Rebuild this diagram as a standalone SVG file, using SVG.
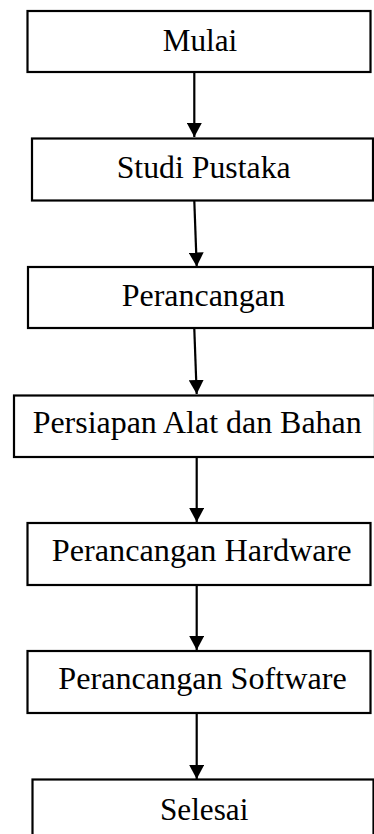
<svg xmlns="http://www.w3.org/2000/svg" width="374" height="834" viewBox="0 0 374 834">
  <style>
    .box { fill: #ffffff; stroke: #000000; stroke-width: 2.2; }
    .lbl { font-family: "Liberation Serif", "Times New Roman", serif; font-size: 31px; fill: #000000; }
    .edge { stroke: #000000; stroke-width: 2.2; fill: none; marker-end: url(#arrow); }
  </style>
  <defs>
    <marker id="arrow" markerUnits="userSpaceOnUse" markerWidth="15" markerHeight="15" refX="14" refY="7.5" orient="auto">
      <path d="M0,0 L14,7.5 L0,15 z" fill="#000000"/>
    </marker>
  </defs>
  <rect width="374" height="834" fill="#ffffff"/>
  <g id="connectors">
    <line class="edge" x1="194.3" y1="72" x2="194.3" y2="137"/>
    <line class="edge" x1="194.3" y1="201" x2="196.7" y2="266.5"/>
    <line class="edge" x1="194.3" y1="329" x2="196.7" y2="394"/>
    <line class="edge" x1="196.7" y1="457.5" x2="196.7" y2="522"/>
    <line class="edge" x1="196.7" y1="585.5" x2="196.7" y2="650"/>
    <line class="edge" x1="196.7" y1="713.5" x2="196.7" y2="779"/>
  </g>
  <g id="mulai">
    <rect class="box" x="27.5" y="11" width="343" height="61"/>
    <text class="lbl" x="162.7" y="50.7" textLength="74.6" lengthAdjust="spacingAndGlyphs">Mulai</text>
  </g>
  <g id="studi-pustaka">
    <rect class="box" x="32" y="138.5" width="341" height="62"/>
    <text class="lbl" x="116.7" y="178.3" textLength="174" lengthAdjust="spacingAndGlyphs">Studi Pustaka</text>
  </g>
  <g id="perancangan">
    <rect class="box" x="28" y="267" width="345" height="61"/>
    <text class="lbl" x="121.7" y="306.3" textLength="163.3" lengthAdjust="spacingAndGlyphs">Perancangan</text>
  </g>
  <g id="persiapan">
    <rect class="box" x="14" y="395.5" width="361" height="61.5"/>
    <text class="lbl" x="32.7" y="433.3" textLength="329" lengthAdjust="spacingAndGlyphs">Persiapan Alat dan Bahan</text>
  </g>
  <g id="hardware">
    <rect class="box" x="27.5" y="523" width="343" height="62"/>
    <text class="lbl" x="51.7" y="561.3" textLength="300" lengthAdjust="spacingAndGlyphs">Perancangan Hardware</text>
  </g>
  <g id="software">
    <rect class="box" x="27.5" y="651" width="343" height="62"/>
    <text class="lbl" x="58.3" y="689.3" textLength="288.4" lengthAdjust="spacingAndGlyphs">Perancangan Software</text>
  </g>
  <g id="selesai">
    <rect class="box" x="32.5" y="779.5" width="341" height="70"/>
    <text class="lbl" x="160" y="820" textLength="88.3" lengthAdjust="spacingAndGlyphs">Selesai</text>
  </g>
</svg>
